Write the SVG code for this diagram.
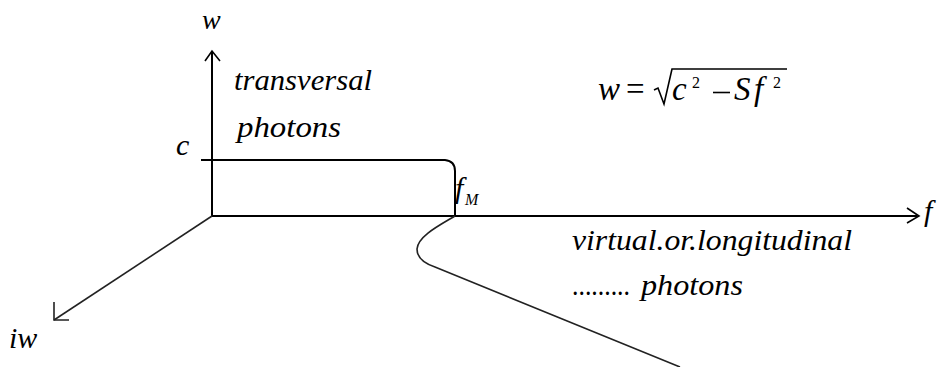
<svg xmlns="http://www.w3.org/2000/svg" width="942" height="367" viewBox="0 0 942 367">
<style>
.ax{fill:none;stroke:#000;stroke-width:2;stroke-linecap:square}
.ob{fill:none;stroke:#222;stroke-width:1.6}
text{font-family:'Liberation Serif','Times New Roman','DejaVu Serif',serif;fill:#000}
.i{font-style:italic}
</style>
<rect width="942" height="367" fill="#fff"/>
<g id="connectors">
<path class="ax" d="M212,216 V52"/>
<path class="ax" d="M205,61 L212,51 L220,61" style="stroke-width:1.6;stroke-linecap:butt"/>
<path class="ax" d="M212,216 H916"/>
<path class="ax" d="M907,208 L919,216 L907,223" style="stroke-width:1.6;stroke-linecap:butt"/>
<path class="ob" d="M212,216 L54,320"/>
<path class="ob" d="M54,302 V320 H69"/>
<path class="ax" d="M202,160 H445 Q455,161 455,171 V216"/>
<path class="ob" d="M455,216 C440,225 418,236 417,249 C417,259 426,264 435,267 L680,367"/>
</g>
<g id="axis-labels">
<text class="i" x="202" y="29" font-size="28">w</text>
<text class="i" x="176" y="155" font-size="30">c</text>
<text class="i" x="9" y="348" font-size="30">iw</text>
<text class="i" x="924" y="221" font-size="30">f</text>
</g>
<g id="fM">
<text class="i" x="455" y="198" font-size="30">f</text>
<text class="i" x="465" y="205" font-size="16">M</text>
</g>
<g id="transversal">
<text class="i" x="234" y="90" font-size="30" textLength="138" lengthAdjust="spacingAndGlyphs">transversal</text>
<text class="i" x="237" y="137" font-size="30" textLength="104" lengthAdjust="spacingAndGlyphs">photons</text>
</g>
<g id="virtual">
<text class="i" x="572" y="250" font-size="30" textLength="280" lengthAdjust="spacingAndGlyphs">virtual.or.longitudinal</text>
<text x="572" y="295" font-size="30" textLength="58" lengthAdjust="spacingAndGlyphs">.........</text>
<text class="i" x="641" y="295" font-size="30" textLength="102" lengthAdjust="spacingAndGlyphs">photons</text>
</g>
<g id="formula">
<text class="i" x="598" y="100" font-size="33">w</text>
<text x="626" y="100" font-size="33">=</text>
<path d="M654,90 L658,88 L664,104 L672,69 H787" fill="none" stroke="#000" stroke-width="1.6"/>
<text class="i" x="672" y="100" font-size="33">c</text>
<text x="692" y="88" font-size="16">2</text>
<path d="M713,92.5 H730" stroke="#000" stroke-width="1.6"/>
<text class="i" x="734" y="100" font-size="33">S</text>
<text class="i" x="754" y="100" font-size="33">f</text>
<text x="773" y="88" font-size="16">2</text>
</g>
</svg>
